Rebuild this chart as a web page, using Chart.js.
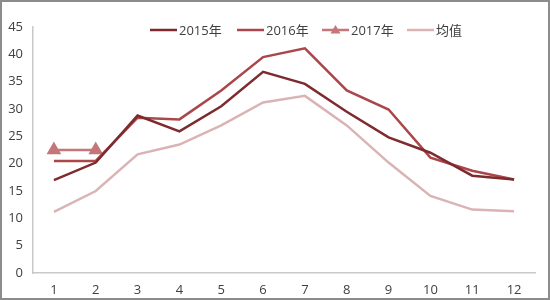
<!DOCTYPE html>
<html>
<head>
<meta charset="utf-8">
<script src="https://cdn.jsdelivr.net/npm/chart.js@4/dist/chart.umd.min.js"></script>
<style>
  html, body { margin: 0; padding: 0; background: #fff; }
  #wrap { width: 550px; height: 300px; position: relative; }
</style>
</head>
<body>
<div id="wrap"><canvas id="tempChart" width="550" height="300"></canvas></div>
<script>
// 月
var months = ['1', '2', '3', '4', '5', '6', '7', '8', '9', '10', '11', '12'];
// 各年の値
var y2015 = [17.0, 20.2, 28.8, 25.9, 30.5, 36.8, 34.6, 29.5, 24.8, 22.0, 17.8, 17.1];
var y2016 = [20.5, 20.5, 28.4, 28.1, 33.4, 39.5, 41.1, 33.4, 29.9, 21.1, 18.7, 17.1];
var y2017 = [22.5, 22.5, null, null, null, null, null, null, null, null, null, null];
var avg = [11.2, 15.0, 21.7, 23.5, 27.0, 31.2, 32.4, 27.0, 20.2, 14.1, 11.6, 11.3];
var yTicks = [0, 5, 10, 15, 20, 25, 30, 35, 40, 45];

var FONT = '"Open Sans", "Noto Sans CJK SC", sans-serif';

// 凡例は自前で描く (グラフ内の上に重ねる)
var legendPlugin = {
    id: 'ownLegend',
    afterDraw: function(chart) {
        var ctx = chart.ctx;
        var xs = [150, 237, 322, 407];
        var y = 30;
        ctx.save();
        ctx.font = '13px ' + FONT;
        ctx.textBaseline = 'middle';
        chart.data.datasets.forEach(function(ds, i) {
            var x = xs[i];
            ctx.strokeStyle = ds.borderColor;
            ctx.lineWidth = 2.5;
            ctx.beginPath();
            ctx.moveTo(x, y);
            ctx.lineTo(x + 27, y);
            ctx.stroke();
            if (ds.pointStyle === 'triangle') {
                ctx.fillStyle = ds.borderColor;
                ctx.beginPath();
                ctx.moveTo(x + 13.5, y - 5);
                ctx.lineTo(x + 18.5, y + 3.5);
                ctx.lineTo(x + 8.5, y + 3.5);
                ctx.closePath();
                ctx.fill();
            }
            ctx.fillStyle = '#404040';
            ctx.fillText(ds.label, x + 29, y + 1);
        });
        // 外枠
        ctx.strokeStyle = '#8c8c8c';
        ctx.lineWidth = 2;
        ctx.strokeRect(1, 1, 548, 298);
        ctx.restore();
    }
};

var ctx = document.getElementById('tempChart').getContext('2d');
var myChart = new Chart(ctx, {
    type: 'line',
    data: {
        labels: months,
        datasets: [{
            label: '2015年',
            data: y2015,
            borderColor: '#7d2b2e',
            borderWidth: 2.5,
            pointRadius: 0,
            tension: 0
        }, {
            label: '2016年',
            data: y2016,
            borderColor: '#a9474a',
            borderWidth: 2.5,
            pointRadius: 0,
            tension: 0
        }, {
            label: '2017年',
            data: y2017,
            borderColor: '#c47679',
            backgroundColor: '#c47679',
            borderWidth: 2.5,
            pointStyle: 'triangle',
            pointRadius: 6,
            pointHoverRadius: 6,
            tension: 0
        }, {
            label: '均值',
            data: avg,
            borderColor: '#dab4b5',
            borderWidth: 2.5,
            pointRadius: 0,
            tension: 0
        }]
    },
    options: {
        responsive: false,
        animation: false,
        layout: { padding: { top: 27, bottom: 0, left: 0, right: 15 } },
        plugins: {
            legend: { display: false },
            tooltip: { enabled: false }
        },
        scales: {
            x: {
                offset: true,
                grid: { display: false, drawTicks: false },
                border: { display: true, color: '#c8c8c8', width: 1.5 },
                ticks: { color: '#404040', font: { size: 13, family: FONT }, padding: 9, maxRotation: 0 },
                afterFit: function(scale) { scale.height = 27; }
            },
            y: {
                min: 0,
                max: 45,
                afterBuildTicks: function(scale) {
                    scale.ticks = yTicks.map(function(v) { return { value: v }; });
                },
                grid: { display: false, drawTicks: false },
                border: { display: true, color: '#c8c8c8', width: 1.5 },
                ticks: { color: '#404040', font: { size: 13, family: FONT }, padding: 10 },
                afterFit: function(scale) { scale.width = 33; }
            }
        }
    },
    plugins: [legendPlugin]
});
</script>
</body>
</html>
